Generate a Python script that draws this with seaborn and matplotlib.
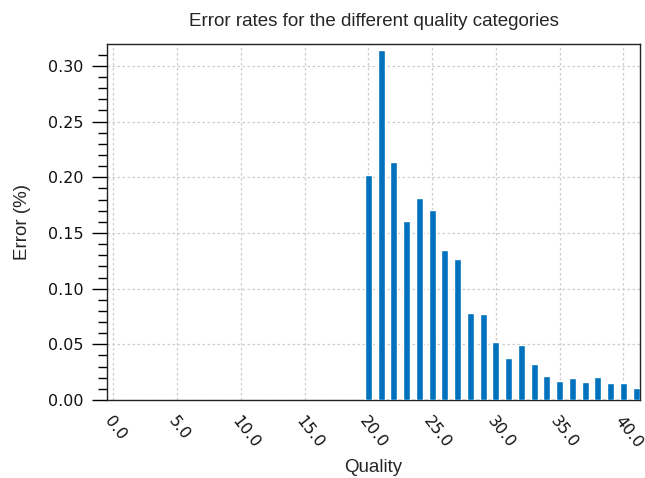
import matplotlib
matplotlib.use("Agg")
import matplotlib.pyplot as plt
import numpy as np
import pandas as pd
import seaborn as sns
from matplotlib.ticker import MultipleLocator

# data
quality = [20, 21, 22, 23, 24, 25, 26, 27, 28, 29, 30,
           31, 32, 33, 34, 35, 36, 37, 38, 39, 40, 41]
error = [0.202, 0.314, 0.214, 0.161, 0.181, 0.171, 0.135, 0.127, 0.078, 0.077, 0.052,
         0.038, 0.049, 0.032, 0.022, 0.017, 0.020, 0.016, 0.021, 0.015, 0.015, 0.011]
xticks = [0, 5, 10, 15, 20, 25, 30, 35, 40]
yticks = [0.00, 0.05, 0.10, 0.15, 0.20, 0.25, 0.30]

df = pd.DataFrame({"Quality": quality, "Error": error})

sns.set_style("white")
plt.rcParams['font.family'] = ['Liberation Sans', 'DejaVu Sans']

fig = plt.figure(figsize=(6.45, 4.78), dpi=100)
ax = fig.add_axes([107 / 645, 1 - 400 / 478, 533 / 645, 356 / 478])

sns.barplot(data=df, x="Quality", y="Error", native_scale=True, width=0.55,
            color="#0072BD", saturation=1, ax=ax, zorder=3)

ax.set_xlim(-0.5, 41.3)
ax.set_ylim(0, 0.3197)
ax.set_xticks(xticks)
ax.set_xticklabels([f"{t:.1f}" for t in xticks], rotation=-52, ha="left", va="top",
                   rotation_mode="anchor", fontsize=11.5, family="DejaVu Sans", color="#111111")
ax.set_yticks(yticks)
ax.set_yticklabels([f"{t:.2f}" for t in yticks], fontsize=11.5, family="DejaVu Sans",
                   color="#111111")
ax.yaxis.set_minor_locator(MultipleLocator(0.01))

ax.tick_params(axis="x", length=0, pad=10)
ax.tick_params(axis="y", which="major", length=11, width=1, color="black", left=True, pad=6)
ax.tick_params(axis="y", which="minor", length=6.5, width=1, color="black", left=True)

ax.grid(True, which="major", color="#cccccc", linestyle=(0, (2, 2)), linewidth=0.9, zorder=0)
ax.set_axisbelow(True)

for s in ax.spines.values():
    s.set_visible(True)
    s.set_color("#222222")
    s.set_linewidth(1)

ax.set_title("Error rates for the different quality categories", fontsize=13.5, pad=13)
ax.set_xlabel("Quality", fontsize=13.5)
ax.set_ylabel("Error (%)", fontsize=13.5)
ax.xaxis.set_label_coords(0.5, -0.165)
ax.yaxis.set_label_coords(-0.143, 0.5)

fig.savefig("out.png", dpi=100)
